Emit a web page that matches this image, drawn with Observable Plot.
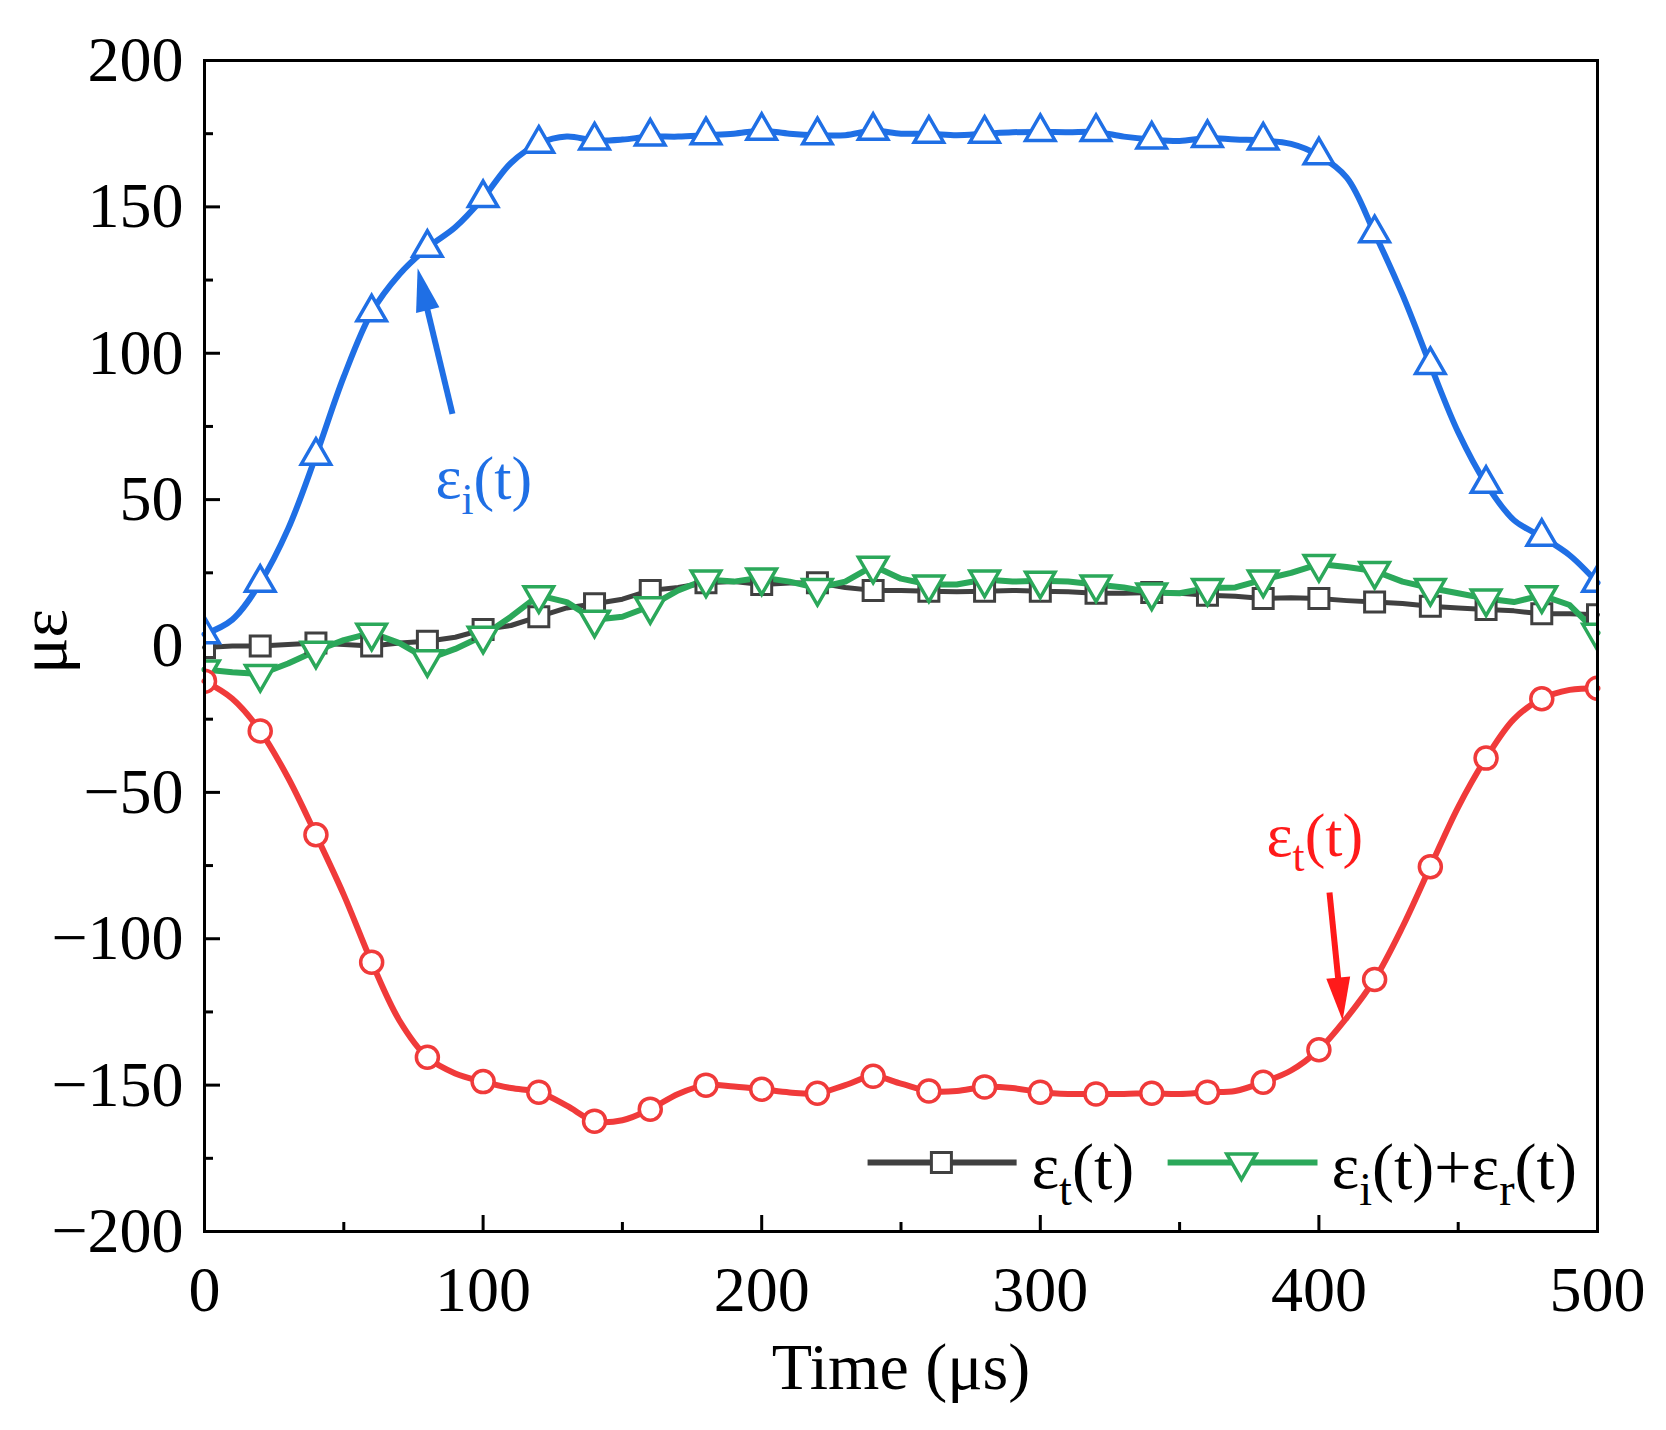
<!DOCTYPE html>
<html>
<head>
<meta charset="utf-8">
<script src="https://cdn.jsdelivr.net/npm/d3@7"></script>
<script src="https://cdn.jsdelivr.net/npm/@observablehq/plot@0.6"></script>
<style>
  body { margin: 0; background: #fff; }
</style>
</head>
<body>
<div id="chart"></div>
<script>
// time grid (µs), markers every 20 µs
const time = [0, 10, 20, 30, 40, 50, 60, 70, 80, 90, 100, 110, 120, 130, 140, 150, 160, 170, 180, 190, 200,
  210, 220, 230, 240, 250, 260, 270, 280, 290, 300, 310, 320, 330, 340, 350, 360, 370, 380, 390, 400,
  410, 420, 430, 440, 450, 460, 470, 480, 490, 500]

// εi(t) incident wave (blue)
const incident = [4, 9, 21.6, 40, 65, 92, 114, 127, 136, 143, 153, 165, 171.6, 174, 172.7, 173, 174, 174, 174.5, 175, 176,
  175, 174.5, 174.5, 176, 175, 175, 174.5, 175, 175.5, 175.6, 175.5, 175.6, 174, 173, 172.5, 173.5, 173, 172.7, 171.5, 167.6,
  160, 141, 120, 96, 73, 55.4, 43, 37.3, 31, 21.6]

// red wave
const reflected = [-12, -18, -29, -45, -64.5, -85, -108, -128, -140.5, -146, -148.8, -151, -152.4, -157, -162.3, -162, -158.2, -153, -150, -150.5, -151.4,
  -152.5, -152.8, -150, -147, -149.5, -152, -152, -150.6, -151, -152.4, -153, -153, -153, -152.8, -153, -152.4, -152, -149, -145, -137.9,
  -127, -113.9, -96, -75.4, -55, -38.3, -25, -18, -15, -14.4]

// εt(t) transmitted (gray)
const transmitted = [-0.5, 0, 0, 0.5, 1, 0.5, 0, 1, 1.6, 3, 5.6, 7, 10, 13, 14.4, 16, 19, 20, 21.6, 22, 21,
  21.5, 21.6, 20, 19, 19, 18.7, 18.5, 18.7, 19, 18.7, 18.5, 18, 18, 18.3, 18, 17.3, 17, 16.2, 16.5, 16.2,
  15.5, 15, 14.5, 13.6, 13, 12.5, 12, 11, 11, 10.7]

// εi(t)+εr(t) (green)
const sumIR = [-8, -9, -9.6, -6, -1.6, 2, 4.5, 1, -4.5, -1, 3.5, 10, 17.3, 15, 9, 10, 13.6, 19, 22.7, 22, 23.4,
  22, 19.8, 22, 27.4, 23, 21, 21, 22.7, 22, 22.3, 22, 21, 20, 18.3, 18, 19.8, 20, 22.7, 25, 28,
  27, 25.6, 22, 19.8, 18, 16.2, 15, 17.3, 14, 4.5]

const xTicks = [0, 100, 200, 300, 400, 500]
const xMinor = [50, 150, 250, 350, 450]
const yTicks = [-200, -150, -100, -50, 0, 50, 100, 150, 200]
const yMinor = [-175, -125, -75, -25, 25, 75, 125, 175]

const blue = '#1f6fe5'
const red = '#f03a3a'
const green = '#2ba85a'
const gray = '#404040'

const rows = time.map((t, i) => ({
  t,
  incident: incident[i],
  reflected: reflected[i],
  transmitted: transmitted[i],
  sumIR: sumIR[i],
}))
const markerRows = rows.filter(d => d.t % 20 === 0)

// custom symbols
const square = { draw(c, size) { const r = Math.sqrt(size / Math.PI); c.rect(-r, -r, 2 * r, 2 * r) } }
const triUp = { draw(c, size) {
  const r = Math.sqrt(size / Math.PI)
  c.moveTo(0, -r); c.lineTo(0.866 * r, 0.5 * r); c.lineTo(-0.866 * r, 0.5 * r); c.closePath()
} }
const triDown = { draw(c, size) {
  const r = Math.sqrt(size / Math.PI)
  c.moveTo(0, r); c.lineTo(0.866 * r, -0.5 * r); c.lineTo(-0.866 * r, -0.5 * r); c.closePath()
} }
const head = { draw(c) { c.moveTo(0, 0); c.lineTo(-12, 43); c.lineTo(12, 43); c.closePath() } }

// annotations
const arrows = [
  { x1: 89.0, y1: 79.3, x2: 79.8, y2: 115.7, tx: 76.5, ty: 129.0, rot: -13.6, color: blue },
  { x1: 403.8, y1: -84.2, x2: 407.0, y2: -114.3, tx: 408.5, ty: -127.9, rot: 174.2, color: '#ff1a1a' },
]
const notes = [
  { x: 82.9, y: 50.4, text: 'ε_i(t)', color: blue },
  { x: 381.2, y: -71.6, text: 'ε_t(t)', color: '#ff1a1a' },
]
const legendLines = [
  { x1: 238, x2: 291.5, y: -176.4, mx: 264.5, color: gray },
  { x1: 345.7, x2: 399.5, y: -176.4, mx: 372.2, color: green },
]
const legendText = [
  { x: 296.8, y: -185.3, text: 'ε_t(t)' },
  { x: 404.5, y: -185.3, text: 'ε_i(t)+ε_r(t)' },
]

const chart = Plot.plot({
  width: 1666,
  height: 1430,
  marginLeft: 204,
  marginRight: 69,
  marginTop: 60,
  marginBottom: 199,
  style: { fontFamily: '"Liberation Serif", "Times New Roman", serif', background: '#fff', color: '#000' },
  x: { domain: [0, 500] },
  y: { domain: [-200, 200] },
  marks: [
    Plot.axisX({ ticks: xTicks, tickSize: -16, tickPadding: 50, fontSize: 64, strokeWidth: 3, label: null, tickFormat: d => d }),
    Plot.axisX({ ticks: xMinor, tickSize: -9, strokeWidth: 3, label: null, tickFormat: () => '' }),
    Plot.axisY({ ticks: yTicks, tickSize: -16, tickPadding: 37, fontSize: 64, strokeWidth: 3, label: null }),
    Plot.axisY({ ticks: yMinor, tickSize: -9, strokeWidth: 3, label: null, tickFormat: () => '' }),

    Plot.line(rows, { x: 't', y: 'transmitted', stroke: gray, strokeWidth: 5 }),
    Plot.line(rows, { x: 't', y: 'sumIR', stroke: green, strokeWidth: 6 }),
    Plot.line(rows, { x: 't', y: 'reflected', stroke: red, strokeWidth: 6, curve: 'catmull-rom' }),
    Plot.line(rows, { x: 't', y: 'incident', stroke: blue, strokeWidth: 6, curve: 'catmull-rom' }),

    Plot.dot(markerRows, { x: 't', y: 'transmitted', symbol: square, r: 10, fill: '#fff', stroke: gray, strokeWidth: 3, clip: true }),
    Plot.dot(markerRows, { x: 't', y: 'sumIR', symbol: triDown, r: 17, fill: '#fff', stroke: green, strokeWidth: 3.5, clip: true }),
    Plot.dot(markerRows, { x: 't', y: 'reflected', r: 11, fill: '#fff', stroke: red, strokeWidth: 3.5, clip: true }),
    Plot.dot(markerRows, { x: 't', y: 'incident', symbol: triUp, r: 17, fill: '#fff', stroke: blue, strokeWidth: 3.5, clip: true }),

    // arrows + labels
    Plot.link(arrows, { x1: 'x1', y1: 'y1', x2: 'x2', y2: 'y2', stroke: 'color', strokeWidth: 6 }),
    Plot.dot(arrows, { x: 'tx', y: 'ty', symbol: head, rotate: 'rot', fill: 'color', stroke: null, r: 10 }),
    Plot.text(notes, { x: 'x', y: 'y', text: 'text', fill: 'color', fontSize: 62, textAnchor: 'start', lineAnchor: 'bottom' }),

    // legend
    Plot.link(legendLines, { x1: 'x1', x2: 'x2', y1: 'y', y2: 'y', stroke: 'color', strokeWidth: 6 }),
    Plot.dot(legendLines.slice(0, 1), { x: 'mx', y: 'y', symbol: square, r: 10, fill: '#fff', stroke: gray, strokeWidth: 3 }),
    Plot.dot(legendLines.slice(1), { x: 'mx', y: 'y', symbol: triDown, r: 17, fill: '#fff', stroke: green, strokeWidth: 3.5 }),
    Plot.text(legendText, { x: 'x', y: 'y', text: 'text', fill: '#000', fontSize: 66, textAnchor: 'start', lineAnchor: 'bottom' }),

    // axis titles
    Plot.text(['Time (μs)'], { frameAnchor: 'bottom', dy: 157, lineAnchor: 'bottom', fontSize: 66, fill: '#000' }),
    Plot.text(['με'], { frameAnchor: 'left', dx: -160, dy: 28, rotate: -90, fontSize: 68, fill: '#000' }),

    Plot.frame({ stroke: '#000', strokeWidth: 3 }),
  ],
})

// subscripts: "ε_t" -> ε with lowered small t
d3.select(chart).selectAll('text').each(function () {
  const s = this.textContent
  if (!s.includes('_')) return
  const el = d3.select(this)
  el.text(null)
  let buf = '', lowered = false
  for (let i = 0; i < s.length; i++) {
    if (s[i] === '_') {
      if (buf) { el.append('tspan').attr('dy', lowered ? '-0.25em' : null).text(buf); lowered = false }
      buf = ''
      el.append('tspan').attr('font-size', '70%').attr('dy', '0.36em').text(s[++i])
      lowered = true
    } else buf += s[i]
  }
  if (buf) el.append('tspan').attr('dy', lowered ? '-0.25em' : null).text(buf)
})

d3.select('#chart').append(() => chart)
</script>
</body>
</html>
